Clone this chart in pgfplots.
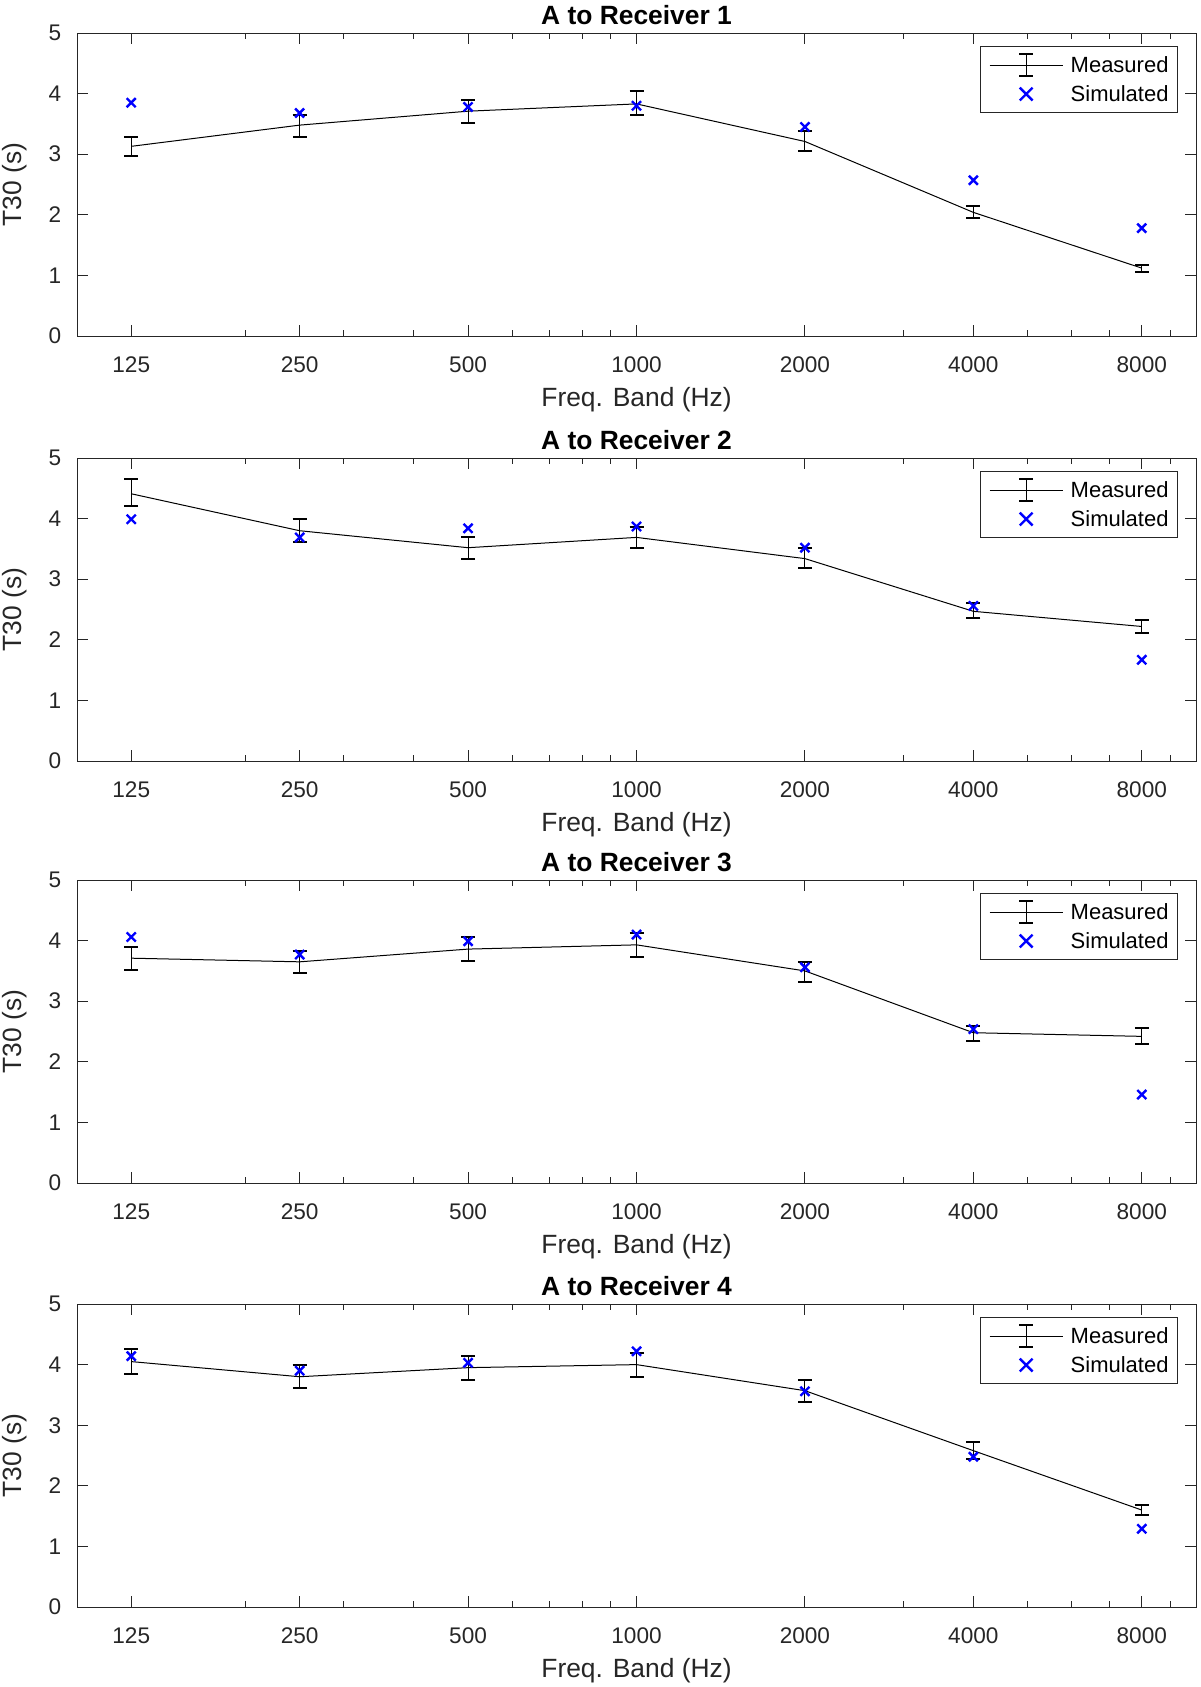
\documentclass[border=0pt]{standalone}
\usepackage{fontspec}
\setmainfont{Liberation Sans}
\usepackage{pgfplots}
\usepackage{pgfplotstable}
\pgfplotsset{compat=1.18}
\definecolor{axgray}{RGB}{38,38,38}
\definecolor{simblue}{RGB}{0,0,255}

\pgfplotstableread{
f    m    ep   em   s
125  3.13 0.16 0.16 3.85
250  3.48 0.16 0.19 3.68
500  3.71 0.19 0.19 3.78
1000 3.83 0.21 0.18 3.80
2000 3.21 0.17 0.15 3.45
4000 2.04 0.11 0.09 2.57
8000 1.12 0.06 0.06 1.78
}\dataA
\pgfplotstableread{
f    m    ep   em   s
125  4.41 0.24 0.21 3.99
250  3.80 0.19 0.19 3.69
500  3.52 0.17 0.18 3.84
1000 3.69 0.17 0.18 3.87
2000 3.34 0.17 0.16 3.52
4000 2.47 0.13 0.11 2.56
8000 2.22 0.11 0.10 1.67
}\dataB
\pgfplotstableread{
f    m    ep   em   s
125  3.71 0.19 0.19 4.06
250  3.65 0.18 0.19 3.77
500  3.86 0.20 0.19 3.99
1000 3.93 0.20 0.20 4.10
2000 3.50 0.15 0.19 3.56
4000 2.48 0.11 0.13 2.54
8000 2.42 0.13 0.12 1.46
}\dataC
\pgfplotstableread{
f    m    ep   em   s
125  4.05 0.20 0.20 4.14
250  3.80 0.19 0.19 3.90
500  3.95 0.20 0.20 4.03
1000 4.00 0.20 0.21 4.22
2000 3.57 0.18 0.18 3.56
4000 2.58 0.15 0.14 2.48
8000 1.60 0.08 0.08 1.29
}\dataD

\pgfplotsset{
  every axis title/.style={at={(0.5,1)}, anchor=base, yshift=4.5pt,
    font=\bfseries\fontsize{13.2}{15}\selectfont},
  every axis/.append style={
    scale only axis, width=559.5pt, height=151.5pt,
    anchor=south west,
    xmin=100, xmax=10000, ymin=0, ymax=5,
    xtick={125,250,500,1000,2000,4000,8000},
    xticklabels={125,250,500,1000,2000,4000,8000},
    minor xtick={200,300,400,600,700,800,900,3000,5000,6000,7000,9000},
    ytick={0,1,2,3,4,5}, yticklabels={0,1,2,3,4,5},
    axis line style={axgray, line width=0.5pt},
    tick style={axgray, line width=0.5pt},
    major tick length=5.5pt, minor tick length=3pt,
    tick label style={font=\fontsize{11.3}{13}\selectfont, text=axgray},
    xticklabel style={anchor=base, yshift=-18.4pt},
    yticklabel style={anchor=east, inner sep=0pt, xshift=-7.75pt},
    xlabel={Freq. Band (Hz)},
    ylabel={T30 (s)},
    xlabel style={at={([yshift=-35pt]axis description cs:0.5,0)}, anchor=base, font=\fontsize{13.2}{15}\selectfont, text=axgray},
    ylabel style={at={([xshift=-27.75pt]axis description cs:0,0.5)}, anchor=base, font=\fontsize{13.2}{15}\selectfont, text=axgray},
    legend style={at={(1,1)}, xshift=-9pt, yshift=-6.5pt, anchor=north east,
      draw=axgray, line width=0.5pt, inner xsep=4.5pt, inner ysep=2pt,
      column sep=3.75pt, row sep=0pt,
      font=\fontsize{11}{13}\selectfont,
      nodes={inner xsep=0pt, inner ysep=2pt, text height=9.2pt, text depth=1.3pt},
      cells={anchor=west}},
  },
  measplot/.style={black, line width=0.5pt, mark=none,
    legend image code/.code={
      \draw[black,line width=0.5pt] (0pt,0pt) -- (36.5pt,0pt);
      \draw[black,line width=0.5pt] (18.25pt,-5.4pt) -- (18.25pt,5.4pt);
      \draw[black,line width=1pt] (14.75pt,5.4pt) -- (21.75pt,5.4pt) (14.75pt,-5.4pt) -- (21.75pt,-5.4pt);
    },
    error bars/y dir=both, error bars/y explicit,
    error bars/error bar style={line width=0.5pt, black},
    error bars/error mark options={rotate=90, black, line width=1pt, mark size=3.5pt}},
  simplot/.style={only marks, mark=x, mark size=3.2pt, simblue, mark options={line width=1.2pt},
    legend image code/.code={
      \path (0pt,0pt) (36.5pt,0pt);
      \draw[simblue,line width=1.2pt] (15.05pt,-3.2pt) -- (21.45pt,3.2pt) (15.05pt,3.2pt) -- (21.45pt,-3.2pt);
    }},
}

\begin{document}
\begin{tikzpicture}
\useasboundingbox (0pt,0pt) rectangle (600pt,-843.5pt);

\begin{semilogxaxis}[at={(38.5pt,-168pt)}, title={A to Receiver 1}]
\addplot[measplot] table[x=f, y=m, y error plus=ep, y error minus=em] {\dataA};
\addlegendentry{Measured}
\addplot[simplot] table[x=f, y=s] {\dataA};
\addlegendentry{Simulated}
\end{semilogxaxis}

\begin{semilogxaxis}[at={(38.5pt,-380.5pt)}, title={A to Receiver 2}]
\addplot[measplot] table[x=f, y=m, y error plus=ep, y error minus=em] {\dataB};
\addlegendentry{Measured}
\addplot[simplot] table[x=f, y=s] {\dataB};
\addlegendentry{Simulated}
\end{semilogxaxis}

\begin{semilogxaxis}[at={(38.5pt,-591.5pt)}, title={A to Receiver 3}]
\addplot[measplot] table[x=f, y=m, y error plus=ep, y error minus=em] {\dataC};
\addlegendentry{Measured}
\addplot[simplot] table[x=f, y=s] {\dataC};
\addlegendentry{Simulated}
\end{semilogxaxis}

\begin{semilogxaxis}[at={(38.5pt,-803.5pt)}, title={A to Receiver 4}]
\addplot[measplot] table[x=f, y=m, y error plus=ep, y error minus=em] {\dataD};
\addlegendentry{Measured}
\addplot[simplot] table[x=f, y=s] {\dataD};
\addlegendentry{Simulated}
\end{semilogxaxis}
\end{tikzpicture}
\end{document}
